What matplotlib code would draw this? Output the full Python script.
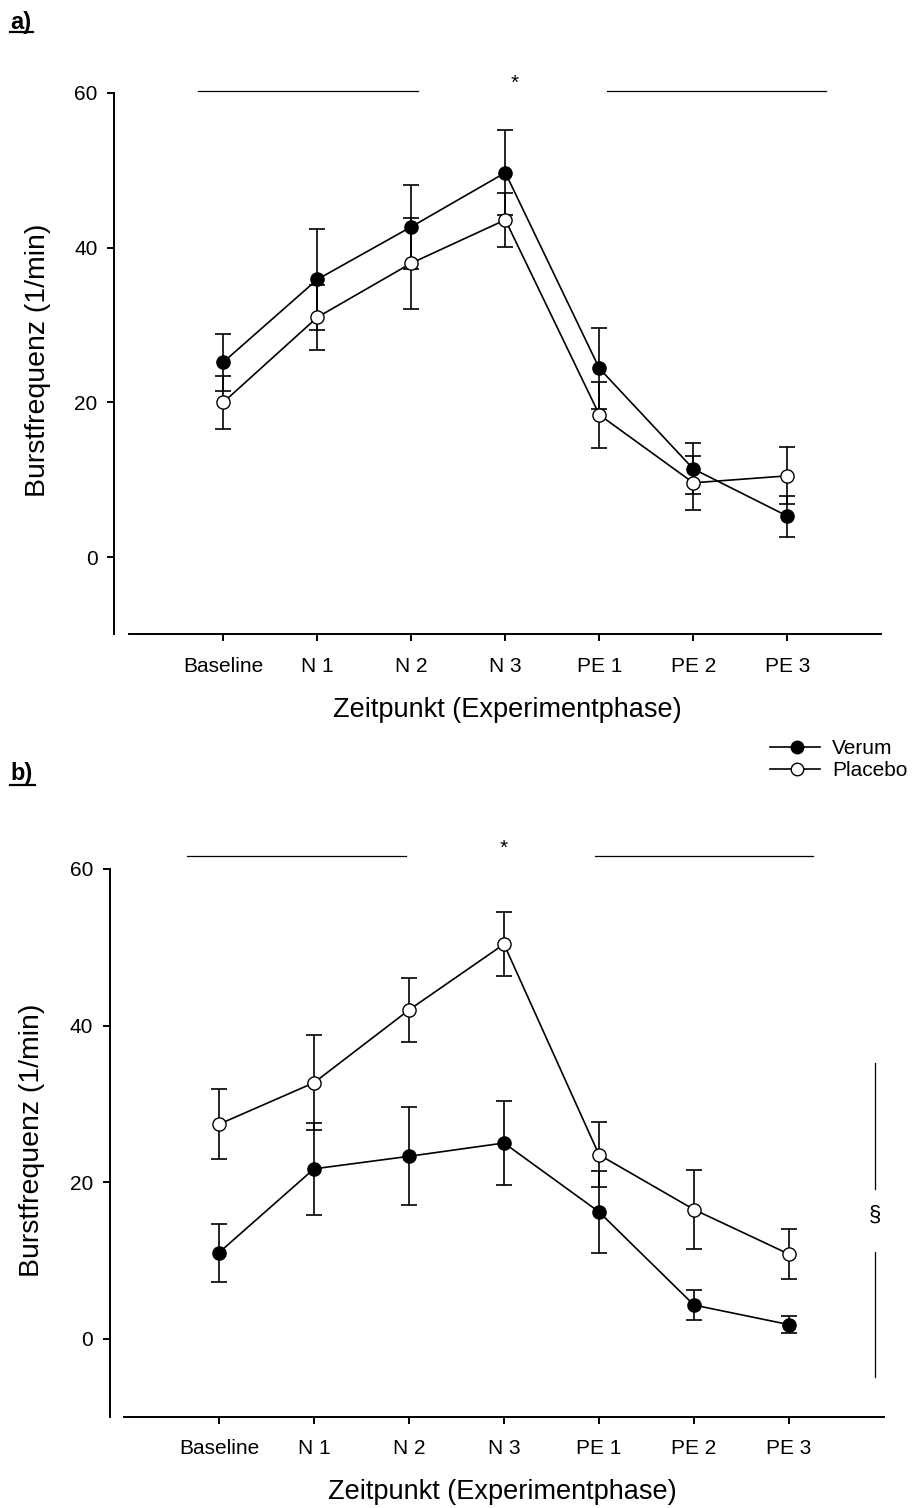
"""Burstfrequenz over experiment phases, Verum vs Placebo (two panels)"""
import matplotlib
matplotlib.use("Agg")
from matplotlib import pyplot as plt
from matplotlib.lines import Line2D

PHASES = ["Baseline", "N 1", "N 2", "N 3", "PE 1", "PE 2", "PE 3"]
PHASE_POS = [1, 2, 3, 4, 5, 6, 7]
Y_TICKS = [0, 20, 40, 60]

# panel a)
A_VERUM = [25.2, 35.9, 42.7, 49.7, 24.4, 11.4, 5.3]
A_VERUM_ERR = [3.7, 6.5, 5.4, 5.5, 5.2, 3.3, 2.65]
A_PLACEBO = [20.0, 31.0, 38.0, 43.6, 18.4, 9.6, 10.5]
A_PLACEBO_ERR = [3.4, 4.2, 5.9, 3.45, 4.25, 3.5, 3.7]

# panel b)
B_VERUM = [11.0, 21.7, 23.3, 25.0, 16.2, 4.3, 1.8]
B_VERUM_ERR = [3.7, 5.9, 6.25, 5.4, 5.2, 1.9, 1.05]
B_PLACEBO = [27.4, 32.7, 42.0, 50.4, 23.5, 16.5, 10.8]
B_PLACEBO_ERR = [4.5, 6.1, 4.1, 4.05, 4.15, 5.0, 3.2]

W, H = 914, 1508
FONT = "Liberation Sans"


def fx(px):
    """pixel x -> figure fraction"""
    return px / W


def fy(py):
    """pixel y (from top) -> figure fraction"""
    return 1 - py / H


def draw_panel(ax, verum, verum_err, placebo, placebo_err, offset):
    """Draw one panel with both series"""
    ax.errorbar(PHASE_POS, verum, yerr=verum_err, fmt='none', ecolor='black',
                elinewidth=1.2, capsize=5.8, capthick=1.2, zorder=2)
    ax.errorbar(PHASE_POS, placebo, yerr=placebo_err, fmt='none',
                ecolor='black', elinewidth=1.2, capsize=5.8, capthick=1.2,
                zorder=2)
    ax.plot(PHASE_POS, verum, color='black', lw=1.2, marker='o', ms=9.5,
            mfc='black', mec='black', mew=1, zorder=3)
    ax.plot(PHASE_POS, placebo, color='black', lw=1.2, marker='o', ms=9.5,
            mfc='white', mec='black', mew=1, zorder=4)

    ax.set_xlim(0, 8)
    ax.set_ylim(-10, 60)
    ax.set_xticks(PHASE_POS, PHASES)
    ax.set_yticks(Y_TICKS)
    for side in ['top', 'right']:
        ax.spines[side].set_visible(False)
    ax.spines['left'].set_position(('outward', offset))
    for side in ['left', 'bottom']:
        ax.spines[side].set_linewidth(1.4)
    ax.tick_params(direction='out', length=5, width=1.4, labelsize=15)
    ax.tick_params(axis='x', pad=11)
    ax.tick_params(axis='y', pad=7)


def sig_marks(ax, y_line, spans, star_xy):
    """Horizontal bars and star above a panel"""
    for x0, x1 in spans:
        ax.plot([x0, x1], [y_line, y_line], color='black', lw=0.9,
                clip_on=False)
    ax.text(star_xy[0], star_xy[1], "*", ha='center', va='center',
            fontsize=15, clip_on=False)


def panel_label(fig, text, x_px, base_px, line_px, width_px):
    """Bold underlined a) / b)"""
    fig.text(fx(x_px), fy(base_px), text, fontsize=17, fontweight='bold',
             ha='left', va='baseline')
    fig.add_artist(Line2D([fx(x_px), fx(x_px + width_px)],
                          [fy(line_px), fy(line_px)], color='black', lw=1.6))


def main():
    """Main entry point of python script"""
    plt.rcParams['font.family'] = [FONT, 'DejaVu Sans']
    fig = plt.figure(figsize=(W / 100, H / 100), dpi=100)

    ax_a = fig.add_axes([fx(129.3), fy(634.4), fx(881.3 - 129.3),
                         (634.4 - 93) / H])
    ax_b = fig.add_axes([fx(124), fy(1417), fx(884 - 124),
                         (1417 - 869) / H])

    draw_panel(ax_a, A_VERUM, A_VERUM_ERR, A_PLACEBO, A_PLACEBO_ERR, 10.8)
    draw_panel(ax_b, B_VERUM, B_VERUM_ERR, B_PLACEBO, B_PLACEBO_ERR, 10.3)

    sig_marks(ax_a, 60.3, [(0.73, 3.07), (5.08, 7.41)], (4.1, 61.2))
    sig_marks(ax_b, 61.7, [(0.66, 2.97), (4.96, 7.25)], (4.0, 62.6))

    # § bracket, panel b
    ax_b.plot([7.9, 7.9], [35.2, 19.1], color='black', lw=0.9, clip_on=False)
    ax_b.plot([7.9, 7.9], [11.1, -4.9], color='black', lw=0.9, clip_on=False)
    ax_b.text(7.9, 15.8, "§", ha='center', va='center', fontsize=16,
              clip_on=False)

    for ylab_x, ylab_y, xlab_x, xlab_y in [(38, 360, 507, 710),
                                           (32, 1140, 502, 1492)]:
        fig.text(fx(ylab_x), fy(ylab_y), "Burstfrequenz (1/min)",
                 rotation=90, ha='center', va='center', fontsize=20.5)
        fig.text(fx(xlab_x), fy(xlab_y), "Zeitpunkt (Experimentphase)",
                 ha='center', va='center', fontsize=19.5)

    panel_label(fig, "a)", 10, 28.5, 32.3, 23)
    panel_label(fig, "b)", 10, 780, 785, 25)

    # legend
    for y_px, face, name in [(747, 'black', "Verum"),
                             (769, 'white', "Placebo")]:
        fig.add_artist(Line2D([fx(770), fx(820)], [fy(y_px), fy(y_px)],
                              color='black', lw=1.2))
        fig.add_artist(Line2D([fx(797)], [fy(y_px)], marker='o', ms=9,
                              mfc=face, mec='black', mew=1))
        fig.text(fx(832), fy(y_px + 1), name, ha='left', va='center',
                 fontsize=15)

    fig.savefig("out.png", dpi=100)


if __name__ == '__main__':
    main()
